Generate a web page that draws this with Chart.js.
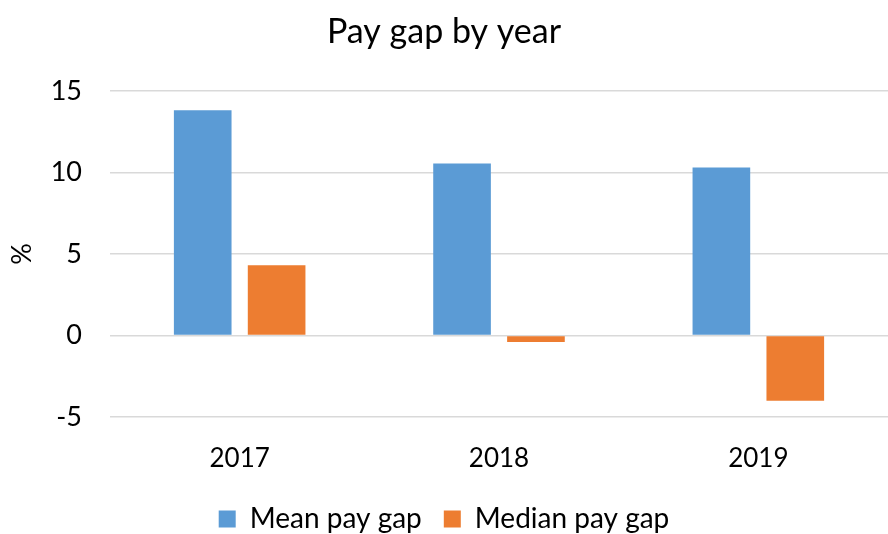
<!DOCTYPE html>
<html>
<head>
<meta charset="utf-8">
<script src="https://cdn.jsdelivr.net/npm/chart.js@4"></script>
<style>
    html, body { margin: 0; padding: 0; background: #fff; }
    #wrap { width: 888px; height: 534px; }
</style>
</head>
<body>
<div id="wrap"><canvas id="payGapChart"></canvas></div>
<script>
// Data
const years = ['2017', '2018', '2019'];
const meanGap = [13.8, 10.55, 10.3];
const medianGap = [4.3, -0.4, -4.0];
const yTicks = [15, 10, 5, 0, -5];

const font = 'Lato';

const ctx = document.getElementById('payGapChart');

if(ctx) {
    let chart = new Chart(ctx, {
        type: 'bar',
        data: {
            labels: years,
            datasets: [{
                label: 'Mean pay gap',
                data: meanGap,
                backgroundColor: '#5b9bd5',
                borderWidth: 0,
            }, {
                label: 'Median pay gap',
                data: medianGap,
                backgroundColor: '#ed7d31',
                borderWidth: 0,
            }],
        },
        options: {
            responsive: true,
            maintainAspectRatio: false,
            animation: false,
            barPercentage: 0.78,
            categoryPercentage: 0.57,
            layout: {
                padding: { left: 0, right: 0, top: 0, bottom: -9 }
            },
            scales: {
                x: {
                    grid: { display: false, drawTicks: false },
                    border: { display: false },
                    ticks: {
                        color: '#000',
                        padding: 26,
                        font: { family: font, size: 26 }
                    },
                    afterFit: function(scale) {
                        scale.height = 66;
                    }
                },
                y: {
                    min: -5,
                    max: 15,
                    afterBuildTicks: function(scale) {
                        scale.ticks = yTicks.map(v => ({ value: v }));
                    },
                    grid: {
                        color: '#d9d9d9',
                        lineWidth: 1.5,
                        drawTicks: false
                    },
                    border: { display: false },
                    ticks: {
                        color: '#000',
                        padding: 28,
                        font: { family: font, size: 27 }
                    },
                    title: {
                        display: true,
                        text: '%',
                        color: '#000',
                        font: { family: font, size: 27 },
                        padding: { top: 6, bottom: 0 }
                    },
                    afterFit: function(scale) {
                        scale.width = 110;
                    }
                }
            },
            plugins: {
                title: {
                    display: true,
                    text: 'Pay gap by year',
                    color: '#000',
                    font: { family: font, size: 34, weight: 'normal' },
                    padding: { top: 12, bottom: 38 }
                },
                legend: {
                    display: true,
                    position: 'bottom',
                    labels: {
                        color: '#000',
                        boxWidth: 17,
                        boxHeight: 17,
                        padding: 22,
                        font: { family: font, size: 28 }
                    }
                },
                tooltip: { enabled: false }
            }
        }
    });
}
</script>
</body>
</html>
